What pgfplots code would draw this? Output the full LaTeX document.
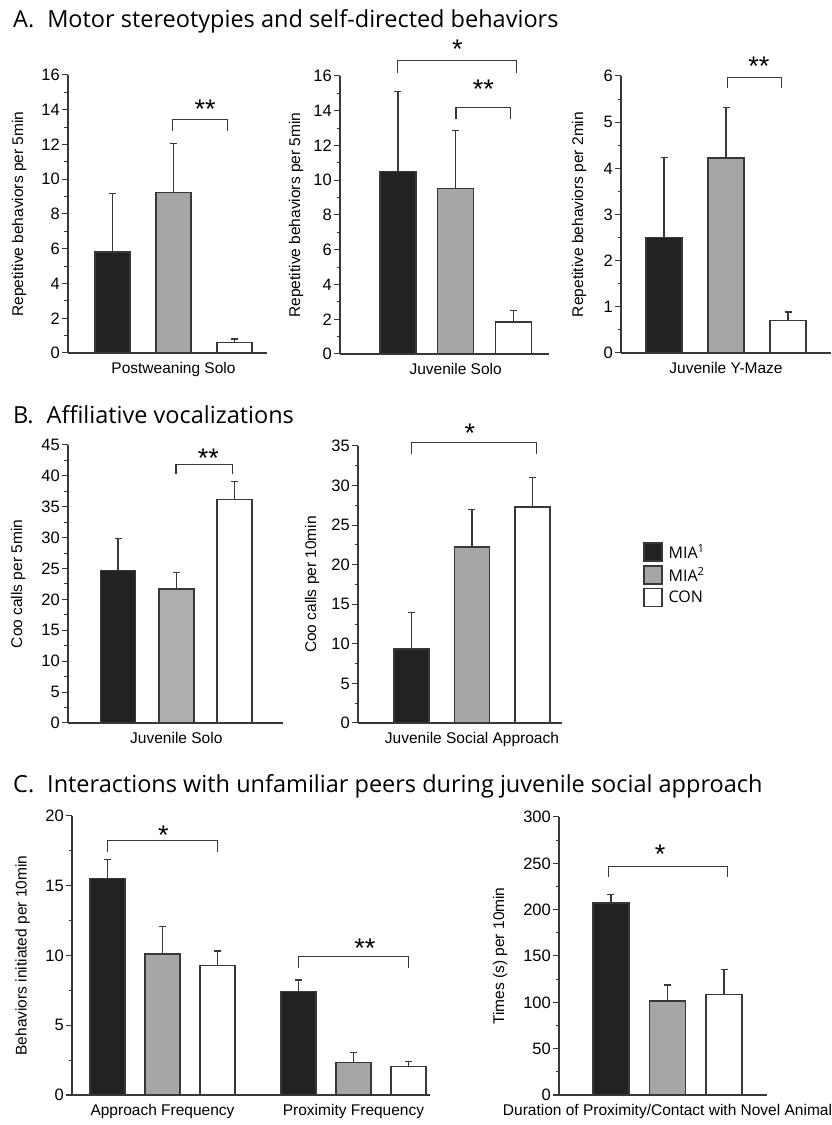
\documentclass[border=0pt]{standalone}
\usepackage{fontspec}
\setmainfont{Liberation Sans}
\newfontfamily\titlefont{Open Sans}
\usepackage{pgfplots}
\pgfplotsset{compat=1.18}

\definecolor{barblack}{HTML}{222222}
\definecolor{bargray}{HTML}{A6A6A6}
\definecolor{bargrayB}{HTML}{AEAEAE}
\definecolor{edge}{HTML}{383838}

\newcommand{\lab}{\fontsize{15.5}{18}\selectfont}

\pgfplotsset{
  panel/.style={
    scale only axis, anchor=south west, clip=false,
    axis lines=left, axis line style={-, draw=edge, line width=1.3pt},
    ymin=0, tick align=outside,
    xtick style={draw=none},
    ytick style={draw=edge, line width=1pt},
    major tick length=6pt, minor tick length=3.5pt,
    minor y tick num=1,
    tick label style={font=\lab},
    yticklabel style={inner sep=2pt, font=\fontsize{16.5}{19}\selectfont},
    /pgf/number format/assume math mode=true,
    every axis plot/.append style={ybar, draw=edge, line width=1.4pt,
      error bars/y dir=plus, error bars/y explicit, error bars/error mark=-,
      error bars/error mark options={rotate=90, draw=edge, line width=1.2pt, mark size=3.5pt},
      error bars/error bar style={draw=edge, line width=1.2pt}},
  },
  ylab/.style={every axis y label/.style={at={([xshift=-#1]axis description cs:0,0.5)}, rotate=90, anchor=center, font=\lab}},
  blk/.style={fill=barblack},
  gry/.style={fill=bargray},
  wht/.style={fill=white},
}
\tikzset{
  brk/.style={draw=edge, line width=1.2pt},
  sig/.style={font=\fontsize{27}{27}\selectfont, inner sep=0pt, anchor=center, yshift=-4.5pt},
  ttl/.style={anchor=base west, inner sep=0pt, font=\titlefont\fontsize{23.5}{28}\selectfont},
}

\begin{document}
\begin{tikzpicture}[x=1pt,y=1pt]
\path[use as bounding box] (0,0) rectangle (832,1125);

\node[ttl] at (13,1097) {A.\hspace{0.55em}Motor stereotypies and self-directed behaviors};
\node[ttl] at (13,701) {B.\hspace{0.55em}Affiliative vocalizations};
\node[ttl] at (13,332) {C.\hspace{0.55em}Interactions with unfamiliar peers during juvenile social approach};

% A1
\begin{axis}[panel, at={(68pt,772pt)}, width=199pt, height=278pt,
  xmin=0.270, xmax=3.533, ymax=16, ytick={0,2,...,16}, bar width=0.574,
  xtick={2}, xticklabels={Postweaning Solo},
  ylabel={Repetitive behaviors per 5min}, ylab=49pt]
\addplot[blk] coordinates {(1,5.81) +- (0,3.39)};
\addplot[gry] coordinates {(2,9.22) +- (0,2.82)};
\addplot[wht] coordinates {(3,0.61) +- (0,0.19)};
\draw[brk] (axis cs:1.986,12.8) -- (axis cs:1.986,13.45) -- (axis cs:2.881,13.45) -- (axis cs:2.881,12.8);
\node[sig] at (axis cs:2.52,14.27) {**};
\end{axis}

% A2
\begin{axis}[panel, at={(340pt,771pt)}, width=209pt, height=278pt,
  xmin=-0.005, xmax=3.617, ymax=16, ytick={0,2,...,16}, bar width=0.624,
  xtick={2}, xticklabels={Juvenile Solo},
  ylabel={Repetitive behaviors per 5min}, ylab=44pt]
\addplot[blk] coordinates {(1,10.51) +- (0,4.61)};
\addplot[gry] coordinates {(2,9.51) +- (0,3.37)};
\addplot[wht] coordinates {(3,1.84) +- (0,0.65)};
\draw[brk] (axis cs:0.988,16.2) -- (axis cs:0.988,16.9) -- (axis cs:3.057,16.9) -- (axis cs:3.057,16.2);
\node[sig] at (axis cs:2.03,17.78) {*};
\draw[brk] (axis cs:2.005,13.5) -- (axis cs:2.005,14.2) -- (axis cs:2.953,14.2) -- (axis cs:2.953,13.5);
\node[sig] at (axis cs:2.48,15.48) {**};
\end{axis}

% A3
\begin{axis}[panel, at={(621pt,772pt)}, width=210pt, height=277pt,
  xmin=0.306, xmax=3.693, ymax=6, ytick={0,1,...,6}, bar width=0.58,
  xtick={2}, xticklabels={Juvenile Y-Maze},
  ylabel={Repetitive behaviors per 2min}, ylab=42pt]
\addplot[blk] coordinates {(1,2.50) +- (0,1.74)};
\addplot[gry] coordinates {(2,4.22) +- (0,1.09)};
\addplot[wht] coordinates {(3,0.70) +- (0,0.19)};
\draw[brk] (axis cs:2.02,5.73) -- (axis cs:2.02,5.96) -- (axis cs:2.898,5.96) -- (axis cs:2.898,5.73);
\node[sig] at (axis cs:2.53,6.30) {**};
\end{axis}

% B1
\begin{axis}[panel, at={(68pt,402pt)}, width=215pt, height=278pt,
  xmin=0.142, xmax=3.83, ymax=45, ytick={0,5,...,45}, bar width=0.6,
  xtick={2}, xticklabels={Juvenile Solo},
  ylabel={Coo calls per 5min}, ylab=50pt]
\addplot[blk] coordinates {(1,24.7) +- (0,5.2)};
\addplot[fill=bargrayB] coordinates {(2,21.7) +- (0,2.6)};
\addplot[wht] coordinates {(3,36.2) +- (0,2.9)};
\draw[brk] (axis cs:1.994,40.3) -- (axis cs:1.994,41.9) -- (axis cs:2.96,41.9) -- (axis cs:2.96,40.3);
\node[sig] at (axis cs:2.55,43.66) {**};
\end{axis}

% B2
\begin{axis}[panel, at={(358pt,402pt)}, width=204pt, height=277pt,
  xmin=0.116, xmax=3.488, ymax=35, ytick={0,5,...,35}, bar width=0.58,
  xtick={2}, xticklabels={Juvenile Social Approach},
  ylabel={Coo calls per 10min}, ylab=46pt,
  legend image code/.code={\draw[#1, line width=1.4pt] (0pt,-9pt) rectangle (18pt,9pt);},
  legend style={at={(axis description cs:1.397,0.653)}, anchor=north west,
    draw=none, fill=none, font=\titlefont\fontsize{16}{19}\selectfont,
    row sep=3pt, inner sep=0pt, nodes={inner sep=2pt}},
  legend cell align=left]
\addplot[blk] coordinates {(1,9.33) +- (0,4.66)};
\addlegendentry{\hspace{4pt}MIA\textsuperscript{1}}
\addplot[gry] coordinates {(2,22.23) +- (0,4.74)};
\addlegendentry{\hspace{4pt}MIA\textsuperscript{2}}
\addplot[wht] coordinates {(3,27.31) +- (0,3.66)};
\addlegendentry{\hspace{4pt}CON}
\draw[brk] (axis cs:0.997,34.0) -- (axis cs:0.997,35.4) -- (axis cs:3.07,35.4) -- (axis cs:3.07,34.0);
\node[sig] at (axis cs:1.967,37.24) {*};
\end{axis}

% C1
\begin{axis}[panel, at={(72pt,30pt)}, width=358pt, height=279pt,
  xmin=0.355, xmax=6.864, ymax=20, ytick={0,5,...,20}, bar width=0.636,
  xtick={2,5.473}, xticklabels={Approach Frequency, Proximity Frequency},
  ylabel={Behaviors initiated per 10min}, ylab=49.5pt]
\addplot[blk] coordinates {(1,15.53) +- (0,1.36) (4.473,7.41) +- (0,0.83)};
\addplot[gry] coordinates {(2,10.11) +- (0,1.96) (5.473,2.32) +- (0,0.71)};
\addplot[wht] coordinates {(3,9.30) +- (0,1.02) (6.473,2.03) +- (0,0.38)};
\draw[brk] (axis cs:1,17.4) -- (axis cs:1,18.23) -- (axis cs:3,18.23) -- (axis cs:3,17.4);
\node[sig] at (axis cs:2.015,18.95) {*};
\draw[brk] (axis cs:4.469,9.08) -- (axis cs:4.469,9.94) -- (axis cs:6.469,9.94) -- (axis cs:6.469,9.08);
\node[sig] at (axis cs:5.68,10.82) {**};
\end{axis}

% C2
\begin{axis}[panel, at={(559pt,30pt)}, width=208pt, height=278pt,
  xmin=0.08, xmax=3.761, ymax=300, ytick={0,50,...,300}, bar width=0.637,
  xtick={2}, xticklabels={Duration of Proximity/Contact with Novel Animal},
  ylabel={Times (s) per 10min}, ylab=59pt]
\addplot[blk] coordinates {(1,207.1) +- (0,9.0)};
\addplot[gry] coordinates {(2,101.5) +- (0,17.3)};
\addplot[wht] coordinates {(3,108.7) +- (0,26.3)};
\draw[brk] (axis cs:0.953,235) -- (axis cs:0.953,246.7) -- (axis cs:3.066,246.7) -- (axis cs:3.066,235);
\node[sig] at (axis cs:1.87,264.4) {*};
\end{axis}

\end{tikzpicture}
\end{document}
